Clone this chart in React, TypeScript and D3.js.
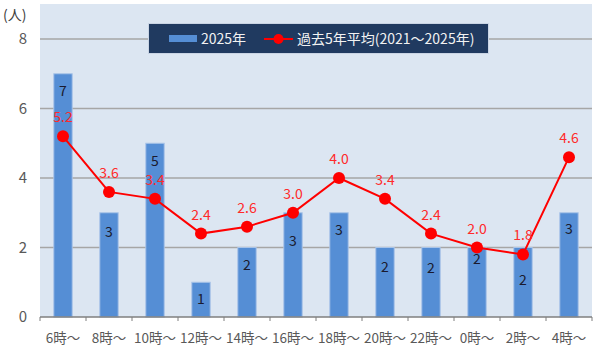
import React, { useEffect, useRef } from 'react';
import * as d3 from 'd3';

// 時間帯別の件数
const categories = ['6時～', '8時～', '10時～', '12時～', '14時～', '16時～', '18時～', '20時～', '22時～', '0時～', '2時～', '4時～'];
const count2025 = [7, 3, 5, 1, 2, 3, 3, 2, 2, 2, 2, 3];
const avg5yr = [5.2, 3.6, 3.4, 2.4, 2.6, 3.0, 4.0, 3.4, 2.4, 2.0, 1.8, 4.6];
const yTicks = [0, 2, 4, 6, 8];
const seriesNames = ['2025年', '過去5年平均(2021～2025年)'];

// bar label nudges so the numbers clear the line markers
const barLabelNudge = [0, 2, 1, 0, 0, 11, 0, 2, 3, -6, 15, -1];

const FONT = '"Noto Sans CJK JP", "Noto Sans", sans-serif';

const App: React.FC = () => {
  const svgRef = useRef<SVGSVGElement>(null);

  useEffect(() => {
    if (!svgRef.current) return;
    const svg = d3.select(svgRef.current);
    svg.selectAll('*').remove();

    const left = 40, right = 592, top = 4, bottom = 317;

    const x = d3.scaleBand().domain(categories).range([left, right]).paddingInner(0.6).paddingOuter(0.3);
    const xc = (c: string) => (x(c) as number) + x.bandwidth() / 2;
    const y = d3.scaleLinear().domain([0, 8]).range([bottom, 39]);

    // plot area
    svg.append('rect')
      .attr('x', left).attr('y', top)
      .attr('width', right - left).attr('height', bottom - top)
      .style('fill', '#dce6f2');

    // gridlines
    yTicks.filter(t => t > 0).forEach(t => {
      svg.append('line')
        .attr('x1', left).attr('x2', right)
        .attr('y1', y(t)).attr('y2', y(t))
        .style('stroke', '#a6a6a6').style('stroke-width', 1.5);
    });

    // y labels
    yTicks.forEach(t => {
      svg.append('text')
        .attr('x', 23).attr('y', y(t)).attr('dy', '0.36em')
        .style('text-anchor', 'middle')
        .style('font-family', FONT).style('font-size', '15px')
        .style('fill', '#595959')
        .text(t);
    });
    svg.append('text')
      .attr('x', 3).attr('y', 20)
      .style('font-family', FONT).style('font-size', '14px')
      .style('fill', '#404040')
      .text('(人)');

    // bars
    categories.forEach((c, i) => {
      svg.append('rect')
        .attr('x', x(c) as number).attr('y', y(count2025[i]))
        .attr('width', x.bandwidth()).attr('height', y(0) - y(count2025[i]))
        .style('fill', '#558ed5')
        .style('stroke', '#a9c4e8').style('stroke-width', 1);
    });

    // category axis
    svg.append('line')
      .attr('x1', left).attr('x2', right)
      .attr('y1', bottom).attr('y2', bottom)
      .style('stroke', '#7f7f7f').style('stroke-width', 1.5);
    const step = (right - left) / categories.length;
    d3.range(categories.length + 1).forEach(i => {
      svg.append('line')
        .attr('x1', left + i * step).attr('x2', left + i * step)
        .attr('y1', bottom).attr('y2', bottom + 4)
        .style('stroke', '#7f7f7f').style('stroke-width', 1);
    });
    categories.forEach(c => {
      svg.append('text')
        .attr('x', xc(c)).attr('y', 338).attr('dy', '0.36em')
        .style('text-anchor', 'middle')
        .style('font-family', FONT).style('font-size', '13.5px')
        .style('fill', '#595959')
        .text(c);
    });

    // bar value labels
    categories.forEach((c, i) => {
      svg.append('text')
        .attr('x', xc(c)).attr('y', y(count2025[i]) + 17 + barLabelNudge[i]).attr('dy', '0.36em')
        .style('text-anchor', 'middle')
        .style('font-family', FONT).style('font-size', '14px')
        .style('fill', '#1a1a2e')
        .text(count2025[i]);
    });

    // 5-year average line
    const line = d3.line<number>()
      .x((_, i) => xc(categories[i]))
      .y(d => y(d));
    svg.append('path')
      .attr('d', line(avg5yr) as string)
      .style('fill', 'none').style('stroke', '#ff0000').style('stroke-width', 2);
    avg5yr.forEach((v, i) => {
      svg.append('circle')
        .attr('cx', xc(categories[i])).attr('cy', y(v)).attr('r', 6)
        .style('fill', '#ff0000');
      svg.append('text')
        .attr('x', xc(categories[i])).attr('y', y(v) - 19).attr('dy', '0.36em')
        .style('text-anchor', 'middle')
        .style('font-family', FONT).style('font-size', '14px')
        .style('fill', '#ff2b2b')
        .text(v.toFixed(1));
    });

    // legend
    const lg = svg.append('g');
    lg.append('rect')
      .attr('x', 148.5).attr('y', 23.5).attr('width', 340).attr('height', 30)
      .style('fill', '#203a60').style('stroke', '#c9d4e4').style('stroke-width', 1);
    lg.append('rect')
      .attr('x', 169).attr('y', 35).attr('width', 28).attr('height', 7)
      .style('fill', '#558ed5');
    lg.append('text')
      .attr('x', 201).attr('y', 39).attr('dy', '0.36em')
      .style('font-family', FONT).style('font-size', '14px')
      .style('fill', '#f2f2f2')
      .text(seriesNames[0]);
    lg.append('line')
      .attr('x1', 264).attr('x2', 293).attr('y1', 39).attr('y2', 39)
      .style('stroke', '#ff0000').style('stroke-width', 2);
    lg.append('circle')
      .attr('cx', 278.5).attr('cy', 39).attr('r', 5)
      .style('fill', '#ff0000');
    lg.append('text')
      .attr('x', 297).attr('y', 39).attr('dy', '0.36em')
      .style('font-family', FONT).style('font-size', '14px')
      .style('fill', '#f2f2f2')
      .text(seriesNames[1]);
  }, []);

  return (
    <svg ref={svgRef} width={600} height={349}
      style={{ position: 'absolute', left: 0, top: 0, background: '#ffffff' }} />
  );
};

export default App;
